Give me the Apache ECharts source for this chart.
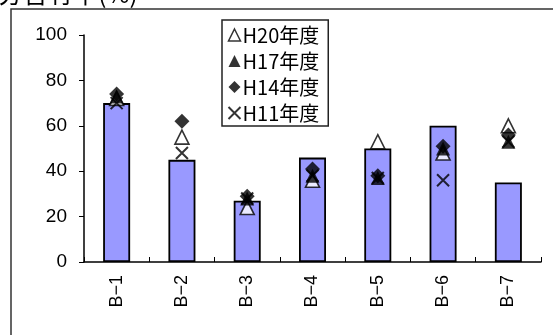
<!DOCTYPE html>
<html>
<head>
<meta charset="utf-8">
<script src="https://cdn.jsdelivr.net/npm/echarts@6/dist/echarts.min.js"></script>
<style>
  html, body { margin: 0; padding: 0; background: #fff; }
  #chart { width: 553px; height: 335px; }
</style>
</head>
<body>
<div id="chart"></div>
<script>
// Sites and measured ratios (%)
var categories = ['B−1', 'B−2', 'B−3', 'B−4', 'B−5', 'B−6', 'B−7'];
var barValues  = [70, 45, 27, 46, 50, 60, 35];
var h20 = [72, 55, 24, 36, 53, 48, 60];
var h17 = [73, null, 28, 38, 37, 50, 53];
var h14 = [74, 62, 29, 41, 38, 51, 56];
var h11 = [70, 48, 28, 38, 37, 36, 53];
var yTicks = [0, 20, 40, 60, 80, 100];

var crossPath = 'path://M0,0L10,10M10,0L0,10';
var fontJP = '"Noto Sans CJK JP", "Liberation Sans", sans-serif';

var chart = echarts.init(document.getElementById('chart'), null, { renderer: 'canvas' });

function scatter(name, data, symbol, size, style) {
  return {
    name: name,
    type: 'scatter',
    data: data,
    symbol: symbol,
    symbolSize: size,
    itemStyle: style,
    emphasis: { disabled: true },
    z: 5
  };
}

chart.setOption({
  animation: false,
  backgroundColor: '#fff',
  graphic: [
    {
      type: 'rect',
      shape: { x: 11, y: 9, width: 600, height: 400 },
      style: { fill: 'none', stroke: '#333', lineWidth: 1.5 },
      z: 0
    },
    {
      type: 'text',
      left: -2,
      top: -19,
      style: { text: '分含有率(%)', font: '25px ' + fontJP, fill: '#000' },
      z: 1
    }
  ],
  grid: { left: 84, top: 35, right: 12, bottom: 73, containLabel: false },
  legend: {
    orient: 'vertical',
    left: 222,
    top: 20,
    padding: [5, 9, 3, 4],
    itemWidth: 12,
    itemHeight: 12,
    itemGap: 6,
    backgroundColor: '#fff',
    borderColor: '#222',
    borderWidth: 1.5,
    textStyle: { fontSize: 20, fontFamily: fontJP, color: '#000', padding: [0, 0, 0, -3] },
    data: [
      { name: 'H20年度', icon: 'triangle', itemStyle: { color: '#fff', borderColor: '#000', borderWidth: 1.5 } },
      { name: 'H17年度', icon: 'triangle', itemStyle: { color: '#000' } },
      { name: 'H14年度', icon: 'diamond', itemStyle: { color: '#000' } },
      { name: 'H11年度', icon: crossPath, itemStyle: { color: 'none', borderColor: '#000', borderWidth: 2 } }
    ]
  },
  xAxis: {
    type: 'category',
    data: categories,
    boundaryGap: true,
    axisLine: { lineStyle: { color: '#000', width: 1.5 } },
    axisTick: { show: true, inside: true, length: 5, lineStyle: { color: '#000' } },
    axisLabel: {
      rotate: 90,
      margin: 13,
      fontSize: 18,
      fontFamily: '"Liberation Sans", Arial, sans-serif',
      color: '#000'
    },
    splitLine: { show: false }
  },
  yAxis: {
    type: 'value',
    min: yTicks[0],
    max: yTicks[yTicks.length - 1],
    interval: 20,
    axisLine: { show: true, lineStyle: { color: '#000', width: 1.5 } },
    axisTick: { show: true, inside: false, length: 5, lineStyle: { color: '#000' } },
    axisLabel: {
      margin: 17,
      fontSize: 19,
      fontFamily: '"Liberation Sans", Arial, sans-serif',
      color: '#000'
    },
    splitLine: { show: false }
  },
  series: [
    {
      name: '現況',
      type: 'bar',
      data: barValues,
      barWidth: 27,
      itemStyle: { color: '#9999ff', borderColor: '#000', borderWidth: 1.8 },
      emphasis: { disabled: true },
      z: 2
    },
    scatter('H20年度', h20, 'triangle', 14, { color: '#fff', borderColor: '#000', borderWidth: 1.6 }),
    scatter('H17年度', h17, 'triangle', 14, { color: '#000' }),
    scatter('H14年度', h14, 'diamond', 15, { color: '#000' }),
    scatter('H11年度', h11, crossPath, 12, { color: 'none', borderColor: '#000', borderWidth: 2 })
  ]
});
</script>
</body>
</html>
